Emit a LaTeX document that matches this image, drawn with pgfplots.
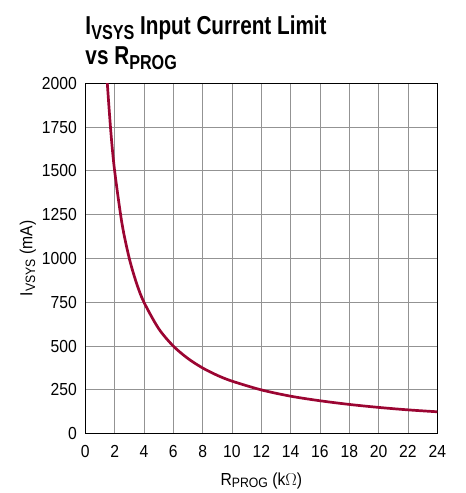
\documentclass[border=0pt]{standalone}
\usepackage{fontspec}
\setmainfont{Liberation Sans}[FakeStretch=0.9]
\newfontfamily\titlefont[FakeStretch=0.8]{Liberation Sans}
\usepackage{graphicx}
\usepackage{pgfplots}
\pgfplotsset{compat=1.18}
\definecolor{curve}{RGB}{155,5,50}
\newcommand\sub[1]{\raisebox{-0.3ex}{\scalebox{0.78}{#1}}}
\begin{document}
\begin{tikzpicture}[x=1bp,y=1bp]
\begin{axis}[
    scale only axis, width=352bp, height=350.5bp,
    xmin=0, xmax=24, ymin=0, ymax=2000,
    xtick={0,2,...,24}, ytick={0,250,...,2000},
    grid=major, major grid style={gray!85, line width=0.9bp},
    axis line style={black, line width=1bp},
    major tick length=0pt,
    tick label style={font=\fontsize{17.5}{19}\selectfont},
    /pgf/number format/assume math mode=true,
    /pgf/number format/1000 sep={},
    xticklabel style={yshift=-8bp},
    yticklabel style={xshift=-5bp},
    xlabel={R\sub{PROG} (k$\Omega$)},
    ylabel={I\sub{VSYS} (mA)},
    label style={font=\fontsize{17.5}{19}\selectfont},
    xlabel style={yshift=-8bp},
    ylabel style={yshift=-1bp},
    clip=true,
]
\coordinate (O) at (rel axis cs:0,0);
\addplot[curve, line width=2.7bp, smooth] coordinates {
(1.40,2143) (1.5,2000) (1.75,1714) (2,1500) (2.5,1200) (3,1000) (3.5,857)
(4,750) (5,600) (6,500) (7,429) (8,375) (9,333) (10,300) (12,250)
(14,214) (16,188) (18,167) (20,150) (22,136) (24,125)};
\end{axis}
\pgfresetboundingbox
\path ([shift={(-85.3,-59.3)}]O) rectangle ([shift={(380.7,433.7)}]O);
\node[anchor=base west,inner sep=0] at ([shift={(0,398.7)}]O) {\titlefont\bfseries\fontsize{26}{28}\selectfont I\sub{VSYS} Input Current Limit};
\node[anchor=base west,inner sep=0] at ([shift={(0,368.7)}]O) {\titlefont\bfseries\fontsize{26}{28}\selectfont vs R\sub{PROG}};
\end{tikzpicture}
\end{document}
